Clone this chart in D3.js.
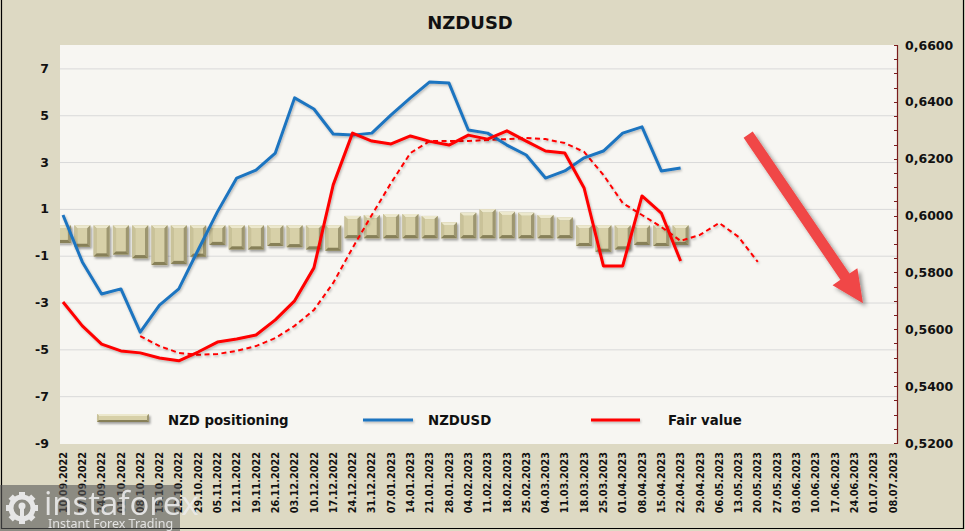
<!DOCTYPE html>
<html><head><meta charset="utf-8">
<script src="https://cdn.jsdelivr.net/npm/d3@7/dist/d3.min.js"></script>
<style>html,body{margin:0;padding:0;background:#ddd9c3;}svg{display:block;}</style>
</head><body>
<svg id="chart" width="965" height="531"></svg>
<script>
const categories = ["10.09.2022","17.09.2022","24.09.2022","01.10.2022","08.10.2022","15.10.2022","22.10.2022","29.10.2022","05.11.2022","12.11.2022","19.11.2022","26.11.2022","03.12.2022","10.12.2022","17.12.2022","24.12.2022","31.12.2022","07.01.2023","14.01.2023","21.01.2023","28.01.2023","04.02.2023","11.02.2023","18.02.2023","25.02.2023","04.03.2023","11.03.2023","18.03.2023","25.03.2023","01.04.2023","08.04.2023","15.04.2023","22.04.2023","29.04.2023","06.05.2023","13.05.2023","20.05.2023","27.05.2023","03.06.2023","10.06.2023","17.06.2023","24.06.2023","01.07.2023","08.07.2023"];

const positioning = [-0.46,-0.62,-1.03,-0.95,-1.11,-1.40,-1.35,-1.04,-0.54,-0.73,-0.73,-0.59,-0.64,-0.73,-0.79,0.70,0.74,0.78,0.78,0.70,0.43,0.84,0.98,0.88,0.84,0.74,0.64,-0.59,-0.83,-0.73,-0.54,-0.59,-0.54];

const nzdusd = [0.6002,0.5837,0.5724,0.5742,0.5590,0.5685,0.5742,0.5879,0.6013,0.6132,0.6160,0.6220,0.6414,0.6375,0.6287,0.6283,0.6290,0.6354,0.6414,0.6470,0.6466,0.6301,0.6290,0.6248,0.6213,0.6132,0.6157,0.6203,0.6227,0.6290,0.6312,0.6157,0.6167];

const fairValue = [0.5696,0.5612,0.5548,0.5524,0.5517,0.5499,0.5489,0.5520,0.5555,0.5566,0.5580,0.5633,0.5700,0.5816,0.6108,0.6290,0.6262,0.6252,0.6280,0.6261,0.6248,0.6283,0.6269,0.6298,0.6262,0.6227,0.6220,0.6097,0.5823,0.5823,0.6069,0.6009,0.5840];

const fairValueAvg = [null,null,null,null,0.5576,0.5541,0.5517,0.5510,0.5513,0.5524,0.5541,0.5569,0.5612,0.5668,0.5763,0.5886,0.6002,0.6115,0.6220,0.6262,0.6262,0.6262,0.6266,0.6269,0.6273,0.6269,0.6255,0.6224,0.6143,0.6044,0.6002,0.5960,0.5911,0.5932,0.5974,0.5925,0.5837];

const leftTicks = [-9,-7,-5,-3,-1,1,3,5,7];
const rightTicks = [0.52,0.54,0.56,0.58,0.60,0.62,0.64,0.66];

// arrow annotation (category index, right-axis value)
const arrowFrom = [35.5, 0.6285];
const arrowTo = [41.45, 0.5692];

const svg = d3.select("#chart");
const W = 965, H = 531;
const plot = {l:60, r:897, t:45, b:444};

const defs = svg.append("defs");
defs.append("clipPath").attr("id","plotclip").append("rect")
  .attr("x",plot.l).attr("y",plot.t).attr("width",plot.r-plot.l).attr("height",plot.b-plot.t);
const sh = defs.append("filter").attr("id","barshadow").attr("filterUnits","userSpaceOnUse")
  .attr("x",0).attr("y",0).attr("width",W).attr("height",H);
sh.append("feDropShadow").attr("dx",1.5).attr("dy",2).attr("stdDeviation",1.3).attr("flood-color","#000").attr("flood-opacity",0.35);
const lsh = defs.append("filter").attr("id","lineshadow").attr("filterUnits","userSpaceOnUse")
  .attr("x",0).attr("y",0).attr("width",W).attr("height",H);
lsh.append("feDropShadow").attr("dx",1).attr("dy",1.5).attr("stdDeviation",1).attr("flood-color","#000").attr("flood-opacity",0.25);
const ash = defs.append("filter").attr("id","arrowshadow").attr("filterUnits","userSpaceOnUse")
  .attr("x",0).attr("y",0).attr("width",W).attr("height",H);
ash.append("feDropShadow").attr("dx",3).attr("dy",3).attr("stdDeviation",2).attr("flood-color","#000").attr("flood-opacity",0.4);

// background
svg.append("rect").attr("x",0).attr("y",0).attr("width",W).attr("height",H).attr("fill","#ddd9c3");
svg.append("rect").attr("x",plot.l).attr("y",plot.t).attr("width",plot.r-plot.l).attr("height",plot.b-plot.t).attr("fill","#f7f6f2");

// scales
const x = d3.scaleBand().domain(categories).range([53.35, 902.55]).paddingInner(0).paddingOuter(0);
const bw = x.bandwidth();
const cx = i => x(categories[i]) + bw/2;
const xi = t => x.range()[0] + (t+0.5)*bw;
const yL = d3.scaleLinear().domain([-9,8]).range([443,45]);
const yR = d3.scaleLinear().domain([0.52,0.66]).range([443,45]);

// gridlines
svg.append("g").selectAll("line").data(leftTicks.filter(v=>v>-9)).join("line")
  .attr("x1",plot.l).attr("x2",plot.r).attr("y1",d=>yL(d)+0.5).attr("y2",d=>yL(d)+0.5)
  .attr("stroke","#d9d9d9").attr("stroke-width",1);

// left axis labels
svg.append("g").selectAll("text").data(leftTicks).join("text")
  .attr("x",49).attr("y",d=>yL(d)).attr("dy","0.36em").attr("text-anchor","end")
  .attr("font-family","DejaVu Sans").attr("font-weight","bold").attr("font-size",12.5).attr("fill","#111")
  .text(d=>d);

// right axis
const rAxis = svg.append("g");
rAxis.append("line").attr("x1",plot.r+0.5).attr("x2",plot.r+0.5).attr("y1",plot.t).attr("y2",plot.b)
  .attr("stroke","#7a1c1c").attr("stroke-width",1.2);
rAxis.selectAll("line.tk").data(d3.range(0.52,0.6601,0.005)).join("line").attr("class","tk")
  .attr("x1",plot.r-3).attr("x2",plot.r).attr("y1",d=>Math.round(yR(d))+0.5).attr("y2",d=>Math.round(yR(d))+0.5)
  .attr("stroke","#7a1c1c").attr("stroke-width",1);
rAxis.selectAll("text").data(rightTicks).join("text")
  .attr("x",905).attr("y",d=>yR(d)).attr("dy","0.36em")
  .attr("font-family","DejaVu Sans").attr("font-weight","bold").attr("font-size",12.5).attr("fill","#111")
  .text(d=>d3.format(".4f")(d).replace(".",","));

// x labels
svg.append("g").selectAll("text").data(categories).join("text")
  .attr("transform",(d,i)=>`translate(${cx(i)+3.6},452) rotate(-90)`)
  .attr("text-anchor","end")
  .attr("font-family","DejaVu Sans").attr("font-weight","bold").attr("font-size",9.7).attr("fill","#111")
  .text(d=>d);

// bevel bar helper
function bevelBar(g, bx, by, w, h, b){
  const grp = g.append("g");
  grp.append("rect").attr("x",bx).attr("y",by).attr("width",w).attr("height",h).attr("fill","#bdb68c");
  const poly = pts => grp.append("polygon").attr("points",pts.map(p=>p.join(",")).join(" "));
  poly([[bx,by],[bx+w,by],[bx+w-b,by+b],[bx+b,by+b]]).attr("fill","#ece8cd");
  poly([[bx,by],[bx+b,by+b],[bx+b,by+h-b],[bx,by+h]]).attr("fill","#c9c299");
  poly([[bx+w,by],[bx+w,by+h],[bx+w-b,by+h-b],[bx+w-b,by+b]]).attr("fill","#9d9670");
  poly([[bx,by+h],[bx+w,by+h],[bx+w-b,by+h-b],[bx+b,by+h-b]]).attr("fill","#878059");
  grp.append("rect").attr("x",bx+b).attr("y",by+b).attr("width",Math.max(0,w-2*b)).attr("height",Math.max(0,h-2*b)).attr("fill","#d7d0a8");
  return grp;
}

// bars
const barG = svg.append("g").attr("clip-path","url(#plotclip)").append("g").attr("filter","url(#barshadow)");
const barW = 16;
const y0 = yL(0);
positioning.forEach((v,i)=>{
  const bx = cx(i)-barW/2;
  let top, bot;
  if (v < 0){ top = y0-7; bot = yL(v); }
  else { top = yL(v); bot = y0+6; }
  bevelBar(barG, bx, top, barW, bot-top, 3.2);
});

// lines
const lineGen = d3.line().defined(d=>d!=null).x((d,i)=>cx(i)).y(d=>yR(d)).curve(d3.curveLinear);
const linesG = svg.append("g").attr("clip-path","url(#plotclip)");
linesG.append("path").datum(fairValueAvg).attr("d",lineGen).attr("fill","none")
  .attr("stroke","#ff0000").attr("stroke-width",2).attr("stroke-dasharray","5,3.5").attr("filter","url(#lineshadow)");
linesG.append("path").datum(nzdusd).attr("d",lineGen).attr("fill","none")
  .attr("stroke","#1f74c0").attr("stroke-width",3).attr("stroke-linejoin","round").attr("filter","url(#lineshadow)");
linesG.append("path").datum(fairValue).attr("d",lineGen).attr("fill","none")
  .attr("stroke","#ff0000").attr("stroke-width",3).attr("stroke-linejoin","round").attr("filter","url(#lineshadow)");

// arrow annotation
(function(){
  const p0=[xi(arrowFrom[0]), yR(arrowFrom[1])], p1=[xi(arrowTo[0]), yR(arrowTo[1])];
  const dx=p1[0]-p0[0], dy=p1[1]-p0[1], L=Math.hypot(dx,dy);
  const ux=dx/L, uy=dy/L, nx=-uy, ny=ux;
  const sw=5.5, hw=15, hl=32;
  const bx=p1[0]-ux*hl, by=p1[1]-uy*hl;
  const pts=[[p0[0]+nx*sw,p0[1]+ny*sw],[bx+nx*sw,by+ny*sw],[bx+nx*hw,by+ny*hw],p1,
             [bx-nx*hw,by-ny*hw],[bx-nx*sw,by-ny*sw],[p0[0]-nx*sw,p0[1]-ny*sw]];
  svg.append("polygon").attr("points",pts.map(p=>p.join(",")).join(" "))
    .attr("fill","#f04646").attr("filter","url(#arrowshadow)");
})();

// title
svg.append("text").attr("x",470).attr("y",29).attr("text-anchor","middle")
  .attr("font-family","DejaVu Sans").attr("font-weight","bold").attr("font-size",18).attr("fill","#111")
  .text("NZDUSD");

// legend
const lg = svg.append("g").attr("filter","url(#barshadow)");
bevelBar(lg, 97, 414, 52, 8, 2);
const legendText = (tx, t) => svg.append("text").attr("x",tx).attr("y",425)
  .attr("font-family","DejaVu Sans").attr("font-weight","bold").attr("font-size",13.3).attr("fill","#111").text(t);
legendText(168, "NZD positioning");
svg.append("line").attr("x1",363).attr("x2",413).attr("y1",420).attr("y2",420).attr("stroke","#1f74c0").attr("stroke-width",3).attr("filter","url(#lineshadow)");
legendText(428, "NZDUSD");
svg.append("line").attr("x1",591).attr("x2",640).attr("y1",420).attr("y2",420).attr("stroke","#ff0000").attr("stroke-width",3).attr("filter","url(#lineshadow)");
legendText(668, "Fair value");

// outer border
svg.append("path").attr("d","M1.5,0 V528.5 H963.5 V0").attr("fill","none").attr("stroke","#000").attr("stroke-width",1.2);

// watermark
const wm = svg.append("g");
wm.append("rect").attr("x",0).attr("y",485).attr("width",180).attr("height",46).attr("fill","#5a5a5a").attr("opacity",0.62);
const gear = wm.append("g").attr("transform","translate(22,508)").attr("fill","#e6e6e6");
d3.range(8).forEach(k=>{
  gear.append("rect").attr("x",-3).attr("y",-16).attr("width",6).attr("height",7).attr("transform",`rotate(${k*45})`);
});
gear.append("circle").attr("r",11).attr("fill","none").attr("stroke","#e6e6e6").attr("stroke-width",5);
gear.append("circle").attr("r",3.5).attr("cy",-2);
gear.append("rect").attr("x",-2).attr("y",1).attr("width",4).attr("height",10);
wm.append("text").attr("x",44).attr("y",515).attr("font-family","Open Sans, Noto Sans, sans-serif").attr("font-size",33).attr("fill","#ececec").attr("opacity",0.9).text("instaforex");
wm.append("text").attr("x",48).attr("y",528).attr("font-family","Noto Sans, sans-serif").attr("font-size",12.5).attr("fill","#ececec").attr("opacity",0.9).text("Instant Forex Trading");
</script>
</body></html>
